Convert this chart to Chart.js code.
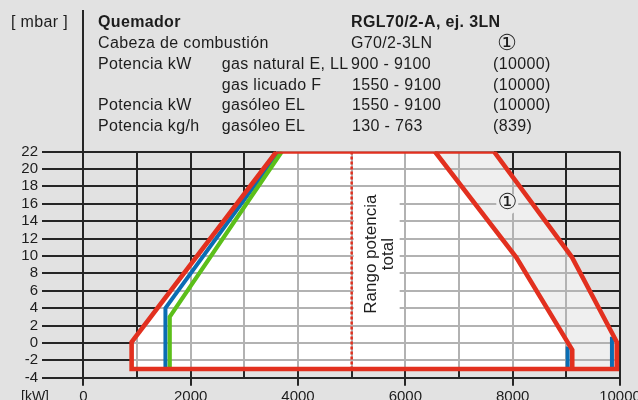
<!DOCTYPE html>
<html>
<head>
<meta charset="utf-8">
<title>RGL70/2-A, ej. 3LN</title>
<script src="https://cdn.jsdelivr.net/npm/chart.js@4.4.1/dist/chart.umd.min.js"></script>
<style>
  html, body { margin: 0; padding: 0; background: #e2e2e2; }
  #wrap { position: relative; width: 638px; height: 400px; overflow: hidden; }
  #campo { position: absolute; left: 0; top: 0; }
  .t {
    position: absolute; white-space: nowrap; color: #1d1d1d;
    font-family: "Liberation Sans", Arial, sans-serif; font-size: 16px;
    letter-spacing: 0.35px; line-height: 20.7px;
  }
  .b { font-weight: bold; }
  .c { font-family: "DejaVu Sans", sans-serif; font-size: 22px; letter-spacing: 0; line-height: 20.7px; }
</style>
</head>
<body>
<div id="wrap">
  <canvas id="campo" width="638" height="400"></canvas>

  <!-- cabecera -->
  <div class="t" style="left:11px;top:12.4px">[ mbar ]</div>
  <div class="t b" style="left:98px;top:12.4px">Quemador</div>
  <div class="t b" style="left:351px;top:12.4px">RGL70/2-A, ej. 3LN</div>

  <div class="t" style="left:98px;top:33.1px">Cabeza de combustión</div>
  <div class="t" style="left:351px;top:33.1px">G70/2-3LN</div>
  <div class="t c" style="left:497px;top:32.6px">①</div>

  <div class="t" style="left:98px;top:53.8px">Potencia kW</div>
  <div class="t" style="left:221.7px;top:53.8px">gas natural E, LL</div>
  <div class="t" style="left:351px;top:53.8px">900 - 9100</div>
  <div class="t" style="left:493px;top:53.8px">(10000)</div>

  <div class="t" style="left:221.7px;top:74.5px">gas licuado F</div>
  <div class="t" style="left:352px;top:74.5px">1550 - 9100</div>
  <div class="t" style="left:493px;top:74.5px">(10000)</div>

  <div class="t" style="left:98px;top:95.2px">Potencia kW</div>
  <div class="t" style="left:221.7px;top:95.2px">gasóleo EL</div>
  <div class="t" style="left:352px;top:95.2px">1550 - 9100</div>
  <div class="t" style="left:493px;top:95.2px">(10000)</div>

  <div class="t" style="left:98px;top:115.9px">Potencia kg/h</div>
  <div class="t" style="left:221.7px;top:115.9px">gasóleo EL</div>
  <div class="t" style="left:352px;top:115.9px">130 - 763</div>
  <div class="t" style="left:493px;top:115.9px">(839)</div>
</div>

<script>
const xTicks = [0, 1000, 2000, 3000, 4000, 5000, 6000, 7000, 8000, 9000, 10000];
const xTickLabels = ['0', '', '2000', '', '4000', '', '6000', '', '8000', '', '10000'];
const yTicks = [-4, -2, 0, 2, 4, 6, 8, 10, 12, 14, 16, 18, 20, 22];

// campo de trabajo completo (zona ①)
const outerX = [900, 900, 3600, 7650, 9100, 9940, 9940, 900];
const outerY = [-3, 0.1, 22, 22, 9.9, 0.1, -3, -3];

// campo de trabajo gas natural (zona blanca)
const innerX = [900, 900, 3600, 6550, 8070, 9110, 9110, 900];
const innerY = [-3, 0.1, 22, 22, 9.8, -0.8, -3, -3];

// linea derecha interior (roja)
const innerEdgeX = [6550, 8070, 9110, 9110];
const innerEdgeY = [22, 9.8, -0.8, -3];

// gasóleo (azul) y gas licuado (verde)
const blueX = [1530, 1530, 3650, null, 9025, 9025, null, 9850, 9850];
const blueY = [-3, 4, 22, null, -3, -0.4, null, -3, 0.7];
const greenX = [1610, 1610, 3700];
const greenY = [-3, 3.0, 22];

// rango potencia total
const rangoX = [5000, 5000];
const rangoY = [22, -3];

const ROJO = '#e2301f';
const AZUL = '#0a6db3';
const VERDE = '#5cbf1a';
const FONDO_CLARO = '#efefef';
const REJILLA = '#262626';
const REJILLA_CLARA = '#b2b2b2';
const TEXTO = '#1d1d1d';
const FUENTE = '"Liberation Sans", Arial, sans-serif';

function puntos(xs, ys) {
    return xs.map(function(x, i) { return { x: x, y: ys[i] }; });
}

function alinear(p, w) {
    return Math.round(p - w / 2) + w / 2;
}

// rejilla gris dentro de las zonas rellenas + textos del diagrama
const extrasPlugin = {
    id: 'extras',
    afterDatasetDraw: function(chart, args) {
        const ds = chart.data.datasets[args.index];
        if (!ds.rejillaClara) return;
        const ctx = chart.ctx, xs = chart.scales.x, ys = chart.scales.y, a = chart.chartArea;
        ctx.save();
        ctx.beginPath();
        args.meta.dataset.path(ctx);
        ctx.closePath();
        ctx.clip();
        ctx.strokeStyle = REJILLA_CLARA;
        ctx.lineWidth = 2;
        ctx.beginPath();
        xTicks.forEach(function(v) {
            const x = alinear(xs.getPixelForValue(v), 2);
            ctx.moveTo(x, a.top); ctx.lineTo(x, a.bottom);
        });
        yTicks.forEach(function(v) {
            const y = alinear(ys.getPixelForValue(v), 2);
            ctx.moveTo(a.left, y); ctx.lineTo(a.right, y);
        });
        ctx.stroke();
        ctx.restore();
    },
    afterDatasetsDraw: function(chart) {
        const ctx = chart.ctx, xs = chart.scales.x, ys = chart.scales.y, a = chart.chartArea;
        ctx.save();

        // linea separadora de la cabecera sobre x = 0
        const x0 = alinear(xs.getPixelForValue(0), 2);
        ctx.strokeStyle = REJILLA;
        ctx.lineWidth = 2;
        ctx.beginPath();
        ctx.moveTo(x0, 10);
        ctx.lineTo(x0, a.top);
        ctx.stroke();

        // "Rango potencia total"
        const xr = xs.getPixelForValue(5000);
        const yc = ys.getPixelForValue(10.2);
        ctx.font = '17px ' + FUENTE;
        const w = ctx.measureText('Rango potencia').width;
        ctx.fillStyle = '#ffffff';
        ctx.fillRect(xr + 2, yc - w / 2 - 3, 46, w + 6);
        ctx.fillStyle = TEXTO;
        ctx.textAlign = 'center';
        ctx.textBaseline = 'alphabetic';
        [['Rango potencia', 24.5], ['total', 41.5]].forEach(function(l) {
            ctx.save();
            ctx.translate(xr + l[1], yc);
            ctx.rotate(-Math.PI / 2);
            ctx.fillText(l[0], 0, 0);
            ctx.restore();
        });

        // marca ① en la zona clara
        const xc = xs.getPixelForValue(7900), yc2 = ys.getPixelForValue(16);
        ctx.fillStyle = FONDO_CLARO;
        ctx.beginPath();
        ctx.arc(xc, yc2, 11, 0, Math.PI * 2);
        ctx.fill();
        ctx.fillStyle = TEXTO;
        ctx.font = '22px "DejaVu Sans", sans-serif';
        ctx.textBaseline = 'middle';
        ctx.fillText('①', xc, yc2);

        // unidad del eje x
        ctx.font = '14px ' + FUENTE;
        ctx.fillText('[kW]', 35, a.bottom + 8 + 2 + 9);
        ctx.restore();
    }
};

function initCampoTrabajo() {
    const canvas = document.getElementById('campo');
    new Chart(canvas, {
        type: 'line',
        data: {
            datasets: [
                {
                    label: 'zona ①',
                    data: puntos(outerX, outerY),
                    fill: 'shape',
                    backgroundColor: FONDO_CLARO,
                    borderColor: 'transparent',
                    borderWidth: 0,
                    rejillaClara: true,
                    order: 6
                },
                {
                    label: 'zona gas natural',
                    data: puntos(innerX, innerY),
                    fill: 'shape',
                    backgroundColor: '#ffffff',
                    borderColor: 'transparent',
                    borderWidth: 0,
                    rejillaClara: true,
                    order: 5
                },
                {
                    label: 'gasóleo EL',
                    data: puntos(blueX, blueY),
                    borderColor: AZUL,
                    borderWidth: 4,
                    spanGaps: false,
                    order: 4
                },
                {
                    label: 'gas licuado F',
                    data: puntos(greenX, greenY),
                    borderColor: VERDE,
                    borderWidth: 4.2,
                    order: 3
                },
                {
                    label: 'Rango potencia total',
                    data: puntos(rangoX, rangoY),
                    borderColor: ROJO,
                    borderWidth: 2.5,
                    borderDash: [3, 2],
                    order: 2
                },
                {
                    label: 'gas natural E, LL ①',
                    data: puntos(outerX, outerY),
                    borderColor: ROJO,
                    borderWidth: 4.6,
                    borderCapStyle: 'square',
                    order: 1
                },
                {
                    label: 'gas natural E, LL',
                    data: puntos(innerEdgeX, innerEdgeY),
                    borderColor: ROJO,
                    borderWidth: 4.6,
                    order: 0
                }
            ]
        },
        options: {
            responsive: false,
            animation: false,
            events: [],
            layout: { padding: { top: 151.5, right: 18, bottom: 0, left: 0 } },
            elements: {
                point: { radius: 0 },
                line: { tension: 0, fill: false, borderJoinStyle: 'miter' }
            },
            plugins: {
                legend: { display: false },
                tooltip: { enabled: false }
            },
            scales: {
                x: {
                    type: 'linear',
                    min: -770,
                    max: 10000,
                    afterBuildTicks: function(s) {
                        s.ticks = xTicks.map(function(v) { return { value: v }; });
                    },
                    afterFit: function(s) {
                        s.height = 22.3;
                        s.paddingLeft = 0;
                        s.paddingRight = 0;
                    },
                    border: { display: false },
                    grid: {
                        color: REJILLA,
                        lineWidth: 2,
                        tickLength: 8,
                        tickWidth: 2,
                        tickColor: function(c) {
                            return xTickLabels[c.index] ? REJILLA : 'transparent';
                        }
                    },
                    ticks: {
                        autoSkip: false,
                        maxRotation: 0,
                        padding: 2,
                        color: TEXTO,
                        font: { family: FUENTE, size: 15 },
                        callback: function(v) {
                            const i = xTicks.indexOf(v);
                            return i >= 0 ? xTickLabels[i] : '';
                        }
                    }
                },
                y: {
                    type: 'linear',
                    min: -4,
                    max: 22,
                    afterBuildTicks: function(s) {
                        s.ticks = yTicks.map(function(v) { return { value: v }; });
                    },
                    afterFit: function(s) {
                        s.width = 42;
                        s.paddingTop = 0;
                        s.paddingBottom = 0;
                    },
                    border: { display: false },
                    grid: { color: REJILLA, lineWidth: 2, drawTicks: false },
                    ticks: {
                        autoSkip: false,
                        padding: 4,
                        color: TEXTO,
                        font: { family: FUENTE, size: 15 }
                    }
                }
            }
        },
        plugins: [extrasPlugin]
    });
}

document.addEventListener('DOMContentLoaded', function() {
    initCampoTrabajo();
});
</script>
</body>
</html>
